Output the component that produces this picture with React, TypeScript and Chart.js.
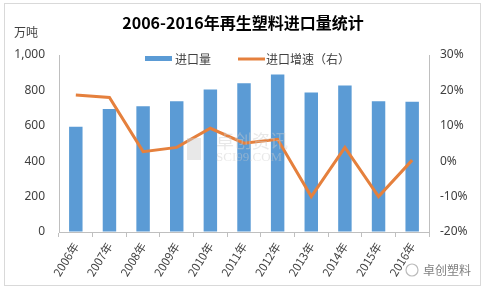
import React, { useEffect, useRef } from 'react';
import { Chart, registerables } from 'chart.js';

Chart.register(...registerables);

const categories = ['2006年', '2007年', '2008年', '2009年', '2010年', '2011年', '2012年', '2013年', '2014年', '2015年', '2016年'];
const importVolume = [595, 695, 710, 738, 805, 840, 890, 788, 828, 738, 736];
const growthRate = [18.7, 18.0, 2.7, 3.9, 9.3, 5.1, 6.2, -10.0, 3.9, -10.0, 0.3];
const titleText = '2006-2016年再生塑料进口量统计';
const unitText = '万吨';
const volumeLabel = '进口量';
const growthLabel = '进口增速（右）';
const watermarkMain = '卓创资讯';
const watermarkSub = 'SCI99.COM';
const brandText = '卓创塑料';

const BLUE = '#5B9BD5';
const ORANGE = '#E5803D';
const AXIS = '#BFBFBF';
const TEXT = '#404040';
const FONT = '"Noto Sans", "Noto Sans CJK SC", sans-serif';
const CJK = '"Noto Sans CJK SC", sans-serif';

export default function App() {
  const ref = useRef<HTMLCanvasElement>(null);

  useEffect(() => {
    document.body.style.margin = '0';
    const deco = {
      id: 'deco',
      beforeDraw(chart: any) {
        const ctx = chart.ctx;
        ctx.save();
        ctx.fillStyle = '#ffffff';
        ctx.fillRect(0, 0, chart.width, chart.height);
        ctx.restore();
      },
      afterDraw(chart: any) {
        const ctx = chart.ctx;
        ctx.save();
        // border
        ctx.strokeStyle = '#D9D9D9';
        ctx.lineWidth = 1;
        ctx.strokeRect(4.5, 3.5, 476, 282);
        // title
        ctx.fillStyle = '#000000';
        ctx.font = 'bold 16px ' + CJK;
        ctx.textAlign = 'center';
        ctx.textBaseline = 'middle';
        ctx.fillText(titleText, 243, 23);
        // unit
        ctx.fillStyle = TEXT;
        ctx.font = '12px ' + CJK;
        ctx.textAlign = 'left';
        ctx.fillText(unitText, 14, 32);
        // legend
        ctx.fillStyle = BLUE;
        ctx.fillRect(145, 56, 27, 5);
        ctx.fillStyle = TEXT;
        ctx.font = '12px ' + CJK;
        ctx.fillText(volumeLabel, 175, 59);
        ctx.strokeStyle = ORANGE;
        ctx.lineWidth = 3;
        ctx.beginPath();
        ctx.moveTo(238, 59);
        ctx.lineTo(265, 59);
        ctx.stroke();
        ctx.fillText(growthLabel, 266, 59);
        // watermark
        ctx.fillStyle = 'rgba(205,205,205,0.45)';
        ctx.fillRect(187, 138, 14, 22);
        ctx.font = '18px ' + CJK;
        ctx.fillText(watermarkMain, 216, 141);
        ctx.font = '13px "Liberation Serif", serif';
        ctx.fillText(watermarkSub, 216, 158);
        // brand
        ctx.strokeStyle = '#BBBBBB';
        ctx.lineWidth = 1.2;
        ctx.beginPath();
        ctx.arc(412, 270, 6, 0, Math.PI * 2);
        ctx.stroke();
        ctx.fillStyle = '#808080';
        ctx.font = '12px ' + CJK;
        ctx.fillText(brandText, 423, 270);
        ctx.restore();
      },
    };

    const chart = new Chart(ref.current as HTMLCanvasElement, {
      type: 'bar',
      data: {
        labels: categories,
        datasets: [
          {
            type: 'line',
            label: growthLabel,
            data: growthRate,
            yAxisID: 'y1',
            borderColor: ORANGE,
            backgroundColor: ORANGE,
            borderWidth: 3,
            pointRadius: 0,
            tension: 0,
            order: 0,
          } as any,
          {
            type: 'bar',
            label: volumeLabel,
            data: importVolume,
            yAxisID: 'y',
            backgroundColor: BLUE,
            barPercentage: 0.4,
            categoryPercentage: 1,
            order: 1,
          },
        ],
      },
      options: {
        responsive: false,
        animation: false,
        layout: { padding: { top: 55, left: 0, right: 0, bottom: 0 } },
        plugins: { legend: { display: false }, title: { display: false }, tooltip: { enabled: false } },
        scales: {
          x: {
            type: 'category',
            grid: { offset: true, drawOnChartArea: false, drawTicks: true, tickLength: 5, color: AXIS },
            border: { color: AXIS },
            ticks: { minRotation: 58, maxRotation: 58, autoSkip: false, padding: 3, color: TEXT, font: { family: CJK, size: 11.5 } },
            afterFit(s: any) { s.height = 57; },
          },
          y: {
            position: 'left',
            min: 0,
            max: 1000,
            grid: { drawOnChartArea: false, drawTicks: false },
            border: { color: AXIS },
            ticks: { stepSize: 200, padding: 14, color: TEXT, font: { family: FONT, size: 12 } },
            afterFit(s: any) { s.width = 59; },
          },
          y1: {
            position: 'right',
            min: -20,
            max: 30,
            grid: { drawOnChartArea: false, drawTicks: false },
            border: { color: AXIS },
            ticks: { stepSize: 10, padding: 11, color: TEXT, font: { family: FONT, size: 12 }, callback: (v: any) => v + '%' },
            afterFit(s: any) { s.width = 55; },
          },
        },
      },
      plugins: [deco],
    });
    return () => chart.destroy();
  }, []);

  return (
    <div style={{ width: 484, height: 289 }}>
      <canvas ref={ref} width={484} height={289} style={{ width: 484, height: 289, display: 'block' }} />
    </div>
  );
}
